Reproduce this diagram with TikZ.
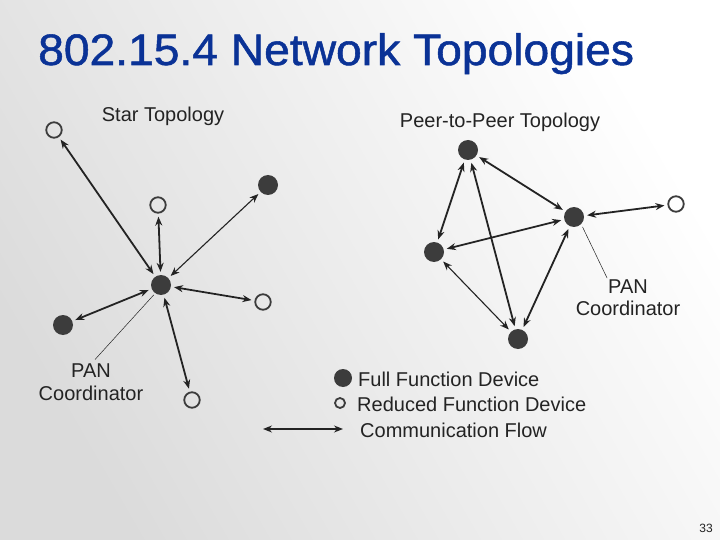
\documentclass[tikz,border=0pt]{standalone}
\usepackage{fontspec}
\setmainfont{Liberation Sans}
\newfontfamily\titlefont[FakeStretch=1.05,FakeBold=1.2]{Liberation Sans}
\usetikzlibrary{arrows.meta}
\definecolor{titleblue}{RGB}{10,50,150}
\definecolor{nodegray}{RGB}{60,60,60}
\definecolor{txtgray}{RGB}{35,35,35}
\begin{document}
\begin{tikzpicture}[x=1pt,y=-1pt,
  ffd/.style={circle,fill=nodegray,minimum size=20pt,inner sep=0pt},
  rfd/.style={circle,draw=nodegray,line width=1.8pt,minimum size=15.5pt,inner sep=0pt},
  flow/.style={{Stealth[length=9pt,width=7pt]}-{Stealth[length=9pt,width=7pt]},line width=1.8pt,color=txtgray,shorten >=3pt,shorten <=3pt},
  thinflow/.style={flow,line width=1.1pt},
  lbl/.style={font=\fontsize{20}{23}\selectfont,text=txtgray,inner sep=0pt},
  leader/.style={line width=0.5pt,color=txtgray}]
\useasboundingbox (0,0) rectangle (720,540);
\shade[left color=white,right color=black!14,shading angle=-60] (0,0) rectangle (720,540);
% title
\node[anchor=base west,inner sep=0pt,text=titleblue,font=\titlefont\fontsize{44}{50}\selectfont] (title) at (38,65) {802.15.4 Network Topologies};
% star topology
\node[lbl] (startitle) at (163,116) {Star Topology};
\node[ffd] (sc) at (161,285) {};
\node[rfd] (s1) at (54,130) {};
\node[rfd] (s2) at (158,205) {};
\node[ffd] (s3) at (268,185) {};
\node[rfd] (s4) at (263,302) {};
\node[ffd] (s5) at (63,325) {};
\node[rfd] (s6) at (192,400) {};
\draw[flow] (s1) -- (sc);
\draw[flow] (s2) -- (sc);
\draw[thinflow] (s3) -- (sc);
\draw[flow] (s4) -- (sc);
\draw[flow] (s5) -- (sc);
\draw[flow] (s6) -- (sc);
\node[lbl] (pan1) at (91,371) {PAN};
\node[lbl] (coord1) at (91,393) {Coordinator};
\draw[leader,shorten <=2pt,shorten >=6pt] (sc.235) -- (pan1.north);
% peer-to-peer topology
\node[lbl] (ptptitle) at (500,122) {Peer-to-Peer Topology};
\node[ffd] (pt) at (468,150) {};
\node[ffd] (pr) at (574,217) {};
\node[rfd] (po) at (676,204) {};
\node[ffd] (pl) at (434,252) {};
\node[ffd] (pb) at (518,339) {};
\draw[flow] (pt) -- (pr);
\draw[flow] (pt) -- (pl);
\draw[flow] (pt) -- (pb);
\draw[flow] (pl) -- (pr);
\draw[thinflow] (pl) -- (pb);
\draw[flow] (pr) -- (pb);
\draw[flow] (pr) -- (po);
\node[lbl] (pan2) at (628,287) {PAN};
\node[lbl] (coord2) at (628,308) {Coordinator};
\draw[leader,shorten <=3pt,shorten >=2pt] (pr.south east) -- (pan2.north west);
% legend
\node[ffd,minimum size=18pt] (lf) at (343,378) {};
\node[rfd,minimum size=10pt,line width=1.8pt] (lr) at (340,403) {};
\coordinate (la) at (263,429);
\coordinate (lb) at (343,429);
\draw[flow,line width=1.3pt,shorten <=0pt,shorten >=0pt] (la) -- (lb);
\node[lbl,anchor=west] (lft) at (358,379) {Full Function Device};
\node[lbl,anchor=west] (lrt) at (357,404) {Reduced Function Device};
\node[lbl,anchor=west] (lat) at (360,430) {Communication Flow};
% page number
\node[inner sep=0pt,text=txtgray,font=\fontsize{12}{14}\selectfont] (pg) at (706,528) {33};
\end{tikzpicture}
\end{document}
